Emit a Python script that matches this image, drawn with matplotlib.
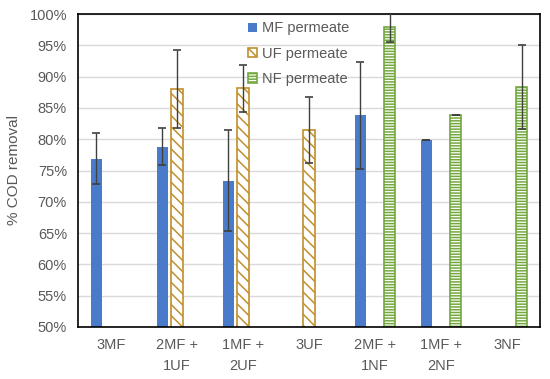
import matplotlib
matplotlib.use("Agg")
import matplotlib.pyplot as plt
import numpy as np

categories = ["3MF", "2MF +\n1UF", "1MF +\n2UF", "3UF", "2MF +\n1NF", "1MF +\n2NF", "3NF"]
mf_vals = [76.9, 78.8, 73.4, 0, 83.8, 79.9, 0]
mf_err = [4.1, 3.0, 8.0, 0, 8.6, 0.0, 0]
uf_vals = [0, 88.0, 88.1, 81.5, 0, 0, 0]
uf_err = [0, 6.2, 3.8, 5.3, 0, 0, 0]
nf_vals = [0, 0, 0, 0, 97.9, 83.8, 88.4]
nf_err = [0, 0, 0, 0, 2.3, 0.0, 6.7]
yticks = [50, 55, 60, 65, 70, 75, 80, 85, 90, 95, 100]

plt.rcParams['font.family'] = ['Liberation Sans', 'DejaVu Sans']
plt.rcParams['hatch.linewidth'] = 1.1

fig = plt.figure(figsize=(5.5, 3.79), dpi=100)
ax = fig.add_axes([78/550, 1-327/379, 462/550, 313/379])

x = np.arange(len(categories))
w = 0.18
off = 0.22
txt = "#595959"
ecol = "#404040"

def draw(vals, errs, dx, **kw):
    v = np.array(vals, float)
    e = np.array(errs, float)
    bars = ax.bar(x + dx, v, w, zorder=2, **kw)
    mask = v > 0
    ax.errorbar((x + dx)[mask], v[mask], yerr=e[mask], fmt='none', ecolor=ecol,
                elinewidth=1.0, capsize=3, capthick=1.2, zorder=3)
    return bars

draw(mf_vals, mf_err, -off, color="#4A7BCB", label="MF permeate")
draw(uf_vals, uf_err, 0, facecolor="white", edgecolor="#C0902C", hatch="\\\\\\", linewidth=1.2, label="UF permeate")
draw(nf_vals, nf_err, off, facecolor="white", edgecolor="#74A83F", hatch="------", linewidth=1.2, label="NF permeate")

ax.set_xlim(-0.5, len(categories) - 0.5)
ax.set_ylim(50, 100)
ax.set_yticks(yticks)
ax.set_yticklabels([f"{t}%" for t in yticks])
ax.set_xticks(x)
ax.set_xticklabels(categories, linespacing=1.6)
ax.tick_params(axis='both', length=0, colors=txt, labelsize=10.5, pad=8)
ax.grid(axis='y', color="#d9d9d9", linewidth=1, zorder=0)
ax.set_axisbelow(True)
for s in ax.spines.values():
    s.set_color("black")
    s.set_linewidth(1.2)
ax.set_ylabel("% COD removal", color=txt, fontsize=11, labelpad=6)

leg = ax.legend(loc="upper left", bbox_to_anchor=(0.355, 0.995), frameon=False,
                fontsize=10.5, labelcolor=txt, handlelength=0.6, handleheight=0.6,
                handletextpad=0.4, labelspacing=0.78, borderaxespad=0)

fig.savefig("out.png", dpi=100)
